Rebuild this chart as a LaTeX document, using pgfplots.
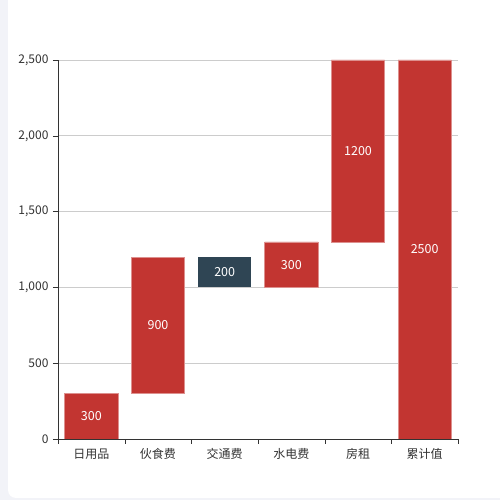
\documentclass[border=0pt]{standalone}
\usepackage{pgfplots}
\usepackage{pgfplotstable}
\pgfplotsset{compat=1.18}
\usepackage{fontspec}
\setmainfont{Noto Sans CJK SC}
\definecolor{barred}{HTML}{C23531}
\definecolor{bardark}{HTML}{2F4554}
\definecolor{txt}{HTML}{333333}
\definecolor{gridc}{HTML}{CCCCCC}
\definecolor{pagebg}{HTML}{F2F3F8}

% x: category index, base: invisible offset, red/dark: visible heights
\pgfplotstableread{
x base red dark mid lab
0 0    300  0   150  300
1 300  900  0   750  900
2 1000 0    200 1100 200
3 1000 300  0   1150 300
4 1300 1200 0   1900 1200
5 0    2500 0   1250 2500
}\waterfall

\pgfplotsset{
  wfbase/.style={
    scale only axis, width=400pt, height=379pt,
    at={(58pt,61pt)}, anchor=south west,
    xmin=-0.5, xmax=5.5, ymin=0, ymax=2500,
  },
}

\begin{document}
\begin{tikzpicture}
\useasboundingbox (0,0) rectangle (500pt,500pt);
\fill[pagebg] (0,0) rectangle (500pt,500pt);
\fill[white, rounded corners=8pt] (8pt,2pt) rectangle (520pt,520pt);

\begin{axis}[
  wfbase,
  ybar stacked,
  bar width=0.8,
  axis lines=left,
  axis line style={-, txt},
  tick align=outside,
  xtick={0,...,5},
  xticklabels={日用品, 伙食费, 交通费, 水电费, 房租, 累计值},
  minor xtick={-0.5,0.5,...,5.5},
  major x tick style={draw=none},
  minor x tick style={txt},
  ytick={0,500,...,2500},
  y tick style={txt},
  major tick length=5pt,
  minor tick length=5pt,
  ymajorgrids,
  grid style={gridc, line width=0.6pt},
  ticklabel style={font=\fontsize{12pt}{14pt}\selectfont, text=txt},
  /pgf/number format/assume math mode=true,
  /pgf/number format/1000 sep={,},
  yticklabel style={xshift=-1pt},
  xticklabel style={yshift=-1pt},
]
\addplot[draw=none, fill=none] table[x=x, y=base] {\waterfall};
\addplot[draw=barred!55!white, line width=0.5pt, fill=barred] table[x=x, y=red] {\waterfall};
\addplot[draw=none, fill=bardark] table[x=x, y=dark] {\waterfall};
\end{axis}

\begin{axis}[wfbase, hide axis]
\addplot[draw=none, mark=none, nodes near coords,
  point meta=explicit symbolic,
  every node near coord/.style={anchor=center, text=white,
    font=\fontsize{12.5pt}{14pt}\selectfont}]
  table[x=x, y=mid, meta=lab] {\waterfall};
\end{axis}
\end{tikzpicture}
\end{document}
